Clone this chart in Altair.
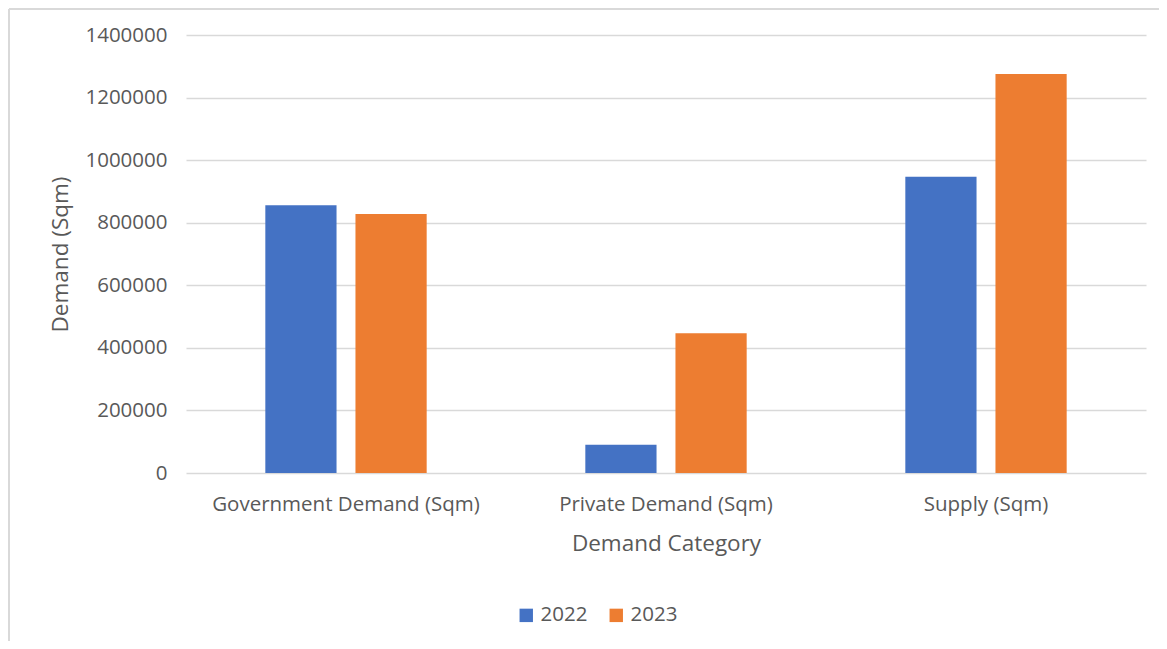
import altair as alt
import pandas as pd

categories = ["Government Demand (Sqm)", "Private Demand (Sqm)", "Supply (Sqm)"]
years = ["2022", "2023"]
values_2022 = [856000, 90000, 947000]
values_2023 = [828000, 447000, 1275000]
colors = ["#4472C4", "#ED7D31"]
y_ticks = [0, 200000, 400000, 600000, 800000, 1000000, 1200000, 1400000]

rows = []
for c, v in zip(categories, values_2022):
    rows.append({"Category": c, "Year": "2022", "Value": v})
for c, v in zip(categories, values_2023):
    rows.append({"Category": c, "Year": "2023", "Value": v})
df = pd.DataFrame(rows)

FONT = "Open Sans"
GREY = "#595959"

bars = alt.Chart(df).mark_bar().encode(
    x=alt.X("Category:N", sort=categories,
            scale=alt.Scale(paddingInner=0, paddingOuter=0),
            axis=alt.Axis(title="Demand Category", labelAngle=0, domain=False, ticks=False,
                          tickSize=0, labelPadding=21, titlePadding=18, labelLimit=400,
                          labelFontSize=20.5, titleFontSize=22.5, labelColor=GREY,
                          titleColor=GREY, labelFont=FONT, titleFont=FONT,
                          titleFontWeight="normal", grid=False)),
    xOffset=alt.XOffset("Year:N", sort=years,
                        scale=alt.Scale(paddingInner=0.21, paddingOuter=0.88)),
    y=alt.Y("Value:Q", scale=alt.Scale(domain=[0, 1400000], nice=False),
            axis=alt.Axis(title="Demand (Sqm)", values=y_ticks, format="d", domain=False,
                          ticks=False, tickSize=0, labelPadding=19, titlePadding=12,
                          labelFontSize=20.5, titleFontSize=22.5, labelColor=GREY,
                          titleColor=GREY, labelFont=FONT, titleFont=FONT,
                          titleFontWeight="normal", gridColor="#D9D9D9", gridWidth=1.3)),
    color=alt.Color("Year:N", sort=years,
                    scale=alt.Scale(domain=years, range=colors),
                    legend=alt.Legend(title=None, orient="none", direction="horizontal",
                                      legendX=330, legendY=570, symbolType="square",
                                      symbolSize=180, symbolStrokeWidth=0,
                                      labelFontSize=20.5, labelColor=GREY, labelFont=FONT,
                                      columnPadding=18, labelOffset=4)),
)

frame_top = alt.Chart(df).mark_rule(color="#D9D9D9", strokeWidth=2, clip=False).encode(
    x=alt.value(-177), x2=alt.value(975), y=alt.value(-26)
)
frame_left = alt.Chart(df).mark_rule(color="#D9D9D9", strokeWidth=2, clip=False).encode(
    x=alt.value(-177), y=alt.value(-26), y2=alt.value(620)
)

chart = alt.layer(bars, frame_top, frame_left).properties(
    width=960, height=438,
    autosize=alt.AutoSizeParams(type="none"),
    padding={"left": 178, "top": 27, "right": 13, "bottom": 168},
).configure(font=FONT).configure_view(stroke=None, strokeWidth=0)

chart.save("out.html", embed_options={"renderer": "svg", "actions": False})
